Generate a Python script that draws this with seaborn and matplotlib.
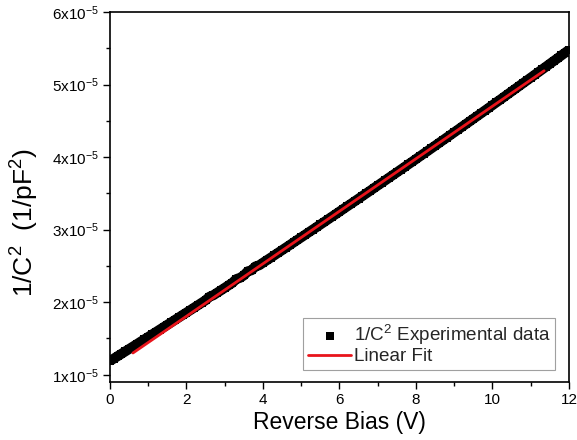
import matplotlib
matplotlib.use("Agg")
import matplotlib.pyplot as plt
import seaborn as sns
import pandas as pd
from matplotlib.ticker import MultipleLocator, FixedLocator

# ---- data ----
bias_v = [round(0.1 * i, 1) for i in range(121)]
inv_c2_e5 = [
    1.190, 1.223, 1.256, 1.289, 1.322, 1.355, 1.388, 1.421, 1.455, 1.488,
    1.521, 1.555, 1.588, 1.622, 1.655, 1.689, 1.722, 1.756, 1.790, 1.824,
    1.857, 1.891, 1.925, 1.959, 1.993, 2.027, 2.075, 2.096, 2.130, 2.164,
    2.198, 2.233, 2.267, 2.318, 2.336, 2.370, 2.425, 2.440, 2.492, 2.509,
    2.544, 2.579, 2.613, 2.648, 2.683, 2.718, 2.753, 2.788, 2.824, 2.859,
    2.894, 2.929, 2.965, 3.000, 3.035, 3.071, 3.106, 3.142, 3.178, 3.213,
    3.249, 3.285, 3.321, 3.356, 3.392, 3.428, 3.464, 3.500, 3.536, 3.573,
    3.609, 3.645, 3.681, 3.718, 3.754, 3.790, 3.827, 3.863, 3.900, 3.936,
    3.973, 4.010, 4.047, 4.083, 4.120, 4.157, 4.194, 4.231, 4.268, 4.305,
    4.342, 4.379, 4.417, 4.454, 4.491, 4.529, 4.566, 4.603, 4.641, 4.678,
    4.716, 4.754, 4.791, 4.829, 4.867, 4.905, 4.943, 4.981, 5.019, 5.057,
    5.095, 5.133, 5.171, 5.209, 5.247, 5.286, 5.324, 5.362, 5.401, 5.439,
    5.478,
]
fit_v = [0.6, 11.35]
fit_e5 = [1.30, 5.19]

x_ticks = [0, 2, 4, 6, 8, 10, 12]
y_ticks_e5 = [1, 2, 3, 4, 5, 6]
y_tick_labels = [r"$\mathregular{%dx10^{-5}}$" % v for v in y_ticks_e5]

exp_label = r"$\mathregular{1/C^2}$ Experimental data"
fit_label = "Linear Fit"

# ---- style ----
sns.set_theme(style="ticks")
plt.rcParams["font.family"] = ["Liberation Sans", "DejaVu Sans"]
plt.rcParams["mathtext.fontset"] = "custom"
plt.rcParams["mathtext.rm"] = "Liberation Sans"
plt.rcParams["mathtext.it"] = "Liberation Sans:italic"
plt.rcParams["mathtext.bf"] = "Liberation Sans:bold"

exp_df = pd.DataFrame({"V": bias_v, "y": [v * 1e-5 for v in inv_c2_e5]})
fit_df = pd.DataFrame({"V": fit_v, "y": [v * 1e-5 for v in fit_e5]})

fig = plt.figure(figsize=(5.77, 4.40), dpi=100)
ax = fig.add_axes([110 / 577, 1 - 382 / 440, 459 / 577, 370 / 440])

# dense experimental points: a thick band of squares
sns.lineplot(data=exp_df, x="V", y="y", ax=ax, color="black",
             linewidth=7.2, legend=False, zorder=2, solid_capstyle="butt")
sns.scatterplot(data=exp_df, x="V", y="y", ax=ax, marker="s", s=40,
                color="black", edgecolor="black", linewidth=0,
                label=exp_label, zorder=2)
sns.lineplot(data=fit_df, x="V", y="y", ax=ax, color="#e8141b",
             linewidth=2.0, label=fit_label, zorder=3)

ax.set_xlim(0, 12)
ax.set_ylim(0.9e-5, 6e-5)
ax.set_xticks(x_ticks)
ax.set_xticklabels([str(t) for t in x_ticks])
ax.set_yticks([v * 1e-5 for v in y_ticks_e5])
ax.set_yticklabels(y_tick_labels)
ax.xaxis.set_minor_locator(MultipleLocator(1))
ax.yaxis.set_minor_locator(FixedLocator([1.5e-5, 2.5e-5, 3.5e-5, 4.5e-5, 5.5e-5]))

ax.tick_params(axis="both", which="major", direction="out", length=5,
               width=1.0, labelsize=11, colors="black", pad=3)
ax.tick_params(axis="both", which="minor", direction="out", length=3,
               width=1.0, colors="black")
ax.tick_params(top=False, right=False, which="both")

for sp in ax.spines.values():
    sp.set_visible(True)
    sp.set_color("black")
    sp.set_linewidth(1.2)

ax.set_xlabel("Reverse Bias (V)", fontsize=16.5, labelpad=3, color="black")
ax.set_ylabel(r"$\mathregular{1/C^2}$  $\mathregular{(1/pF^2)}$", fontsize=19,
              color="black")
ax.yaxis.set_label_coords(-0.150, 0.432)

leg = ax.legend(loc="lower right", bbox_to_anchor=(0.9695, 0.032),
                fontsize=13.6, frameon=True, fancybox=False, edgecolor="#888888",
                handlelength=2.3, handletextpad=0.12, labelspacing=0.08,
                borderpad=0.25, borderaxespad=0, markerscale=1.0)
leg.get_frame().set_linewidth(0.8)

fig.savefig("out.png", dpi=100)
